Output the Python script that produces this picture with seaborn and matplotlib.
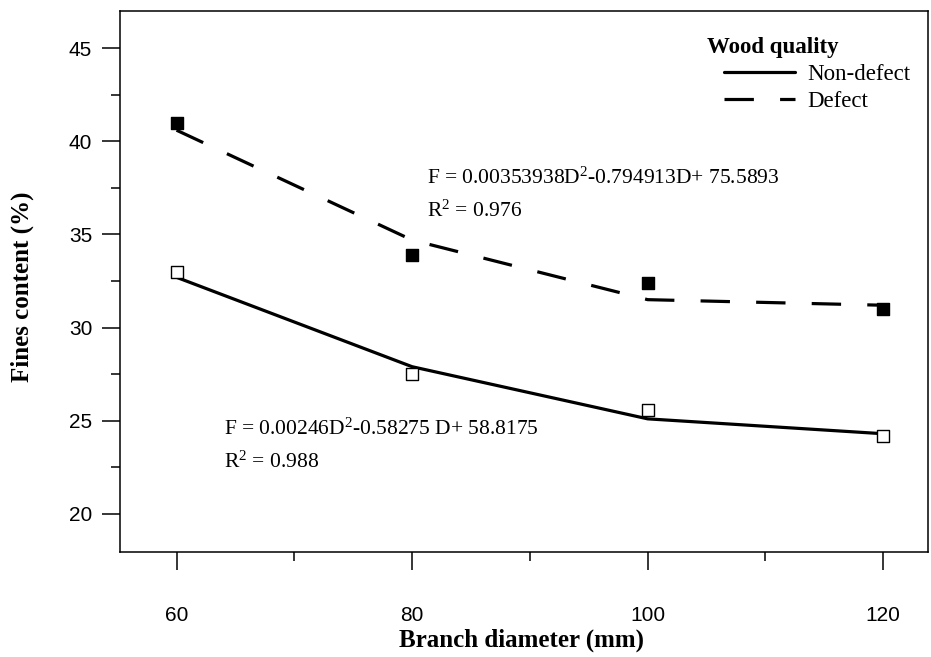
import matplotlib
matplotlib.use("Agg")
import matplotlib.pyplot as plt
import seaborn as sns
import pandas as pd

# ---- data ----
diameter = [60, 80, 100, 120]
nondefect_obs = [33.0, 27.5, 25.6, 24.2]
defect_obs = [41.0, 33.9, 32.4, 31.0]
nondefect_fit = [32.7, 27.9, 25.1, 24.3]
defect_fit = [40.6, 34.7, 31.5, 31.2]
series_names = ["Non-defect", "Defect"]
x_ticks = [60, 80, 100, 120]
y_ticks = [20, 25, 30, 35, 40, 45]
eq_nondefect = r"F = 0.00246D$^{\mathrm{2}}$-0.58275 D+ 58.8175"
r2_nondefect = r"R$^{\mathrm{2}}$ = 0.988"
eq_defect = r"F = 0.00353938D$^{\mathrm{2}}$-0.794913D+ 75.5893"
r2_defect = r"R$^{\mathrm{2}}$ = 0.976"

sns.set_theme(style="white")
plt.rcParams["font.family"] = ["Liberation Serif", "DejaVu Serif"]
plt.rcParams["mathtext.fontset"] = "custom"
plt.rcParams["mathtext.rm"] = "Liberation Serif"
plt.rcParams["mathtext.it"] = "Liberation Serif:italic"
plt.rcParams["mathtext.bf"] = "Liberation Serif:bold"

W, H = 931, 657
fig = plt.figure(figsize=(W / 100, H / 100), dpi=100)
L, R, T, B = 120, 928, 11, 552
ax = fig.add_axes([L / W, 1 - B / H, (R - L) / W, (B - T) / H])

fit_df = pd.DataFrame({"D": diameter * 2,
                       "F": nondefect_fit + defect_fit,
                       "q": [series_names[0]] * 4 + [series_names[1]] * 4})
obs_nd = pd.DataFrame({"D": diameter, "F": nondefect_obs})
obs_d = pd.DataFrame({"D": diameter, "F": defect_obs})

lw = 2.3
sns.lineplot(data=fit_df[fit_df.q == series_names[0]], x="D", y="F", color="black",
             lw=lw, label=series_names[0], ax=ax)
sns.lineplot(data=fit_df[fit_df.q == series_names[1]], x="D", y="F", color="black",
             lw=lw, linestyle=(0, (9.2, 8.2)), label=series_names[1], ax=ax)

sns.scatterplot(data=obs_nd, x="D", y="F", marker="s", s=85, facecolor="white",
                edgecolor="black", linewidth=1.0, zorder=5, legend=False, ax=ax)
sns.scatterplot(data=obs_d, x="D", y="F", marker="s", s=85, facecolor="black",
                edgecolor="black", linewidth=1.0, zorder=5, legend=False, ax=ax)

ax.set_xlim(55.2, 123.8)
ax.set_ylim(17.95, 47.0)
ax.set_xticks(x_ticks)
ax.set_yticks(y_ticks)
ax.set_xticks([70, 90, 110], minor=True)
ax.set_yticks([22.5, 27.5, 32.5, 37.5, 42.5], minor=True)
ax.set_xticklabels([str(v) for v in x_ticks])
ax.set_yticklabels([str(v) for v in y_ticks])

for s in ax.spines.values():
    s.set_visible(True)
    s.set_color("black")
    s.set_linewidth(1.1)

tick_font = ["Liberation Sans", "DejaVu Sans"]
ax.tick_params(axis="both", which="major", direction="out", length=13, width=1.1,
               color="black", labelsize=15, labelcolor="black")
ax.tick_params(axis="both", which="minor", direction="out", length=6.5, width=1.1,
               color="black")
ax.tick_params(axis="x", which="both", bottom=True, top=False)
ax.tick_params(axis="y", which="both", left=True, right=False)
ax.tick_params(axis="x", which="major", pad=26)
ax.tick_params(axis="y", which="major", pad=7)
for lab in ax.get_xticklabels() + ax.get_yticklabels():
    lab.set_family(tick_font)

ax.set_xlabel("Branch diameter (mm)", fontsize=18, fontweight="bold", color="black")
ax.set_ylabel("Fines content (%)", fontsize=18, fontweight="bold", color="black")
ax.xaxis.set_label_coords(0.497, -0.163)
ax.yaxis.set_label_coords(-0.121, 0.49)
ax.xaxis.label.set_va("center")
ax.yaxis.label.set_va("center")

ax.text(64.0, 24.57, eq_nondefect, fontsize=15.5, va="center", ha="left", color="black")
ax.text(64.0, 22.75, r2_nondefect, fontsize=15.5, va="center", ha="left", color="black")
ax.text(81.3, 38.0, eq_defect, fontsize=15.5, va="center", ha="left", color="black")
ax.text(81.3, 36.25, r2_defect, fontsize=15.5, va="center", ha="left", color="black")

leg = ax.legend(loc="upper left", bbox_to_anchor=(724 / W, 1 - 64 / H),
                bbox_transform=fig.transFigure, frameon=False, fontsize=16.5,
                handlelength=3.1, handletextpad=0.55, labelspacing=0.25,
                borderpad=0, borderaxespad=0)
for t in leg.get_texts():
    t.set_color("black")
fig.text(707 / W, 1 - 47 / H, "Wood quality", fontsize=16.5, fontweight="bold",
         va="center", ha="left", color="black")

fig.savefig("out.png", dpi=100, facecolor="white")
